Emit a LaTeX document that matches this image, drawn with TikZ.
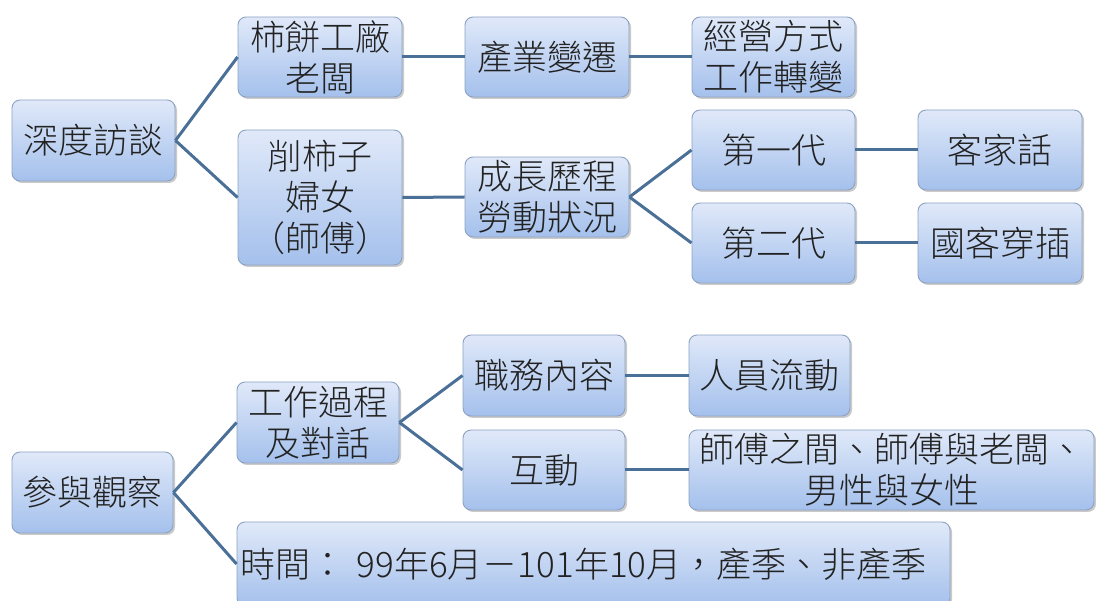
\documentclass[tikz,border=0pt]{standalone}
\usepackage{fontspec}
\setmainfont{Noto Sans CJK TC}[UprightFont={* Light}]
\usetikzlibrary{shadows}
\definecolor{boxtop}{HTML}{E0E9F9}
\definecolor{boxbot}{HTML}{A4C0EC}
\definecolor{boxline}{HTML}{8CA2C2}
\definecolor{connc}{HTML}{4A7098}
\definecolor{txt}{HTML}{222222}
\tikzset{
  box/.style={rectangle, rounded corners=8pt, draw=boxline, line width=0.9pt,
    top color=boxtop, bottom color=boxbot, text=txt, align=center,
    inner sep=0pt, font=\fontsize{35}{41}\selectfont,
    drop shadow={shadow xshift=2pt, shadow yshift=-2pt, opacity=0.35, fill=black!60}},
  conn/.style={draw=connc, line width=3pt},
}
\begin{document}
\begin{tikzpicture}[x=1pt,y=-1pt]
\useasboundingbox (0,0) rectangle (1096,601);
% top tree
\node[box, minimum width=163pt, minimum height=81pt] (ia) at (93.5,140.5) {深度訪談};
\node[box, minimum width=164pt, minimum height=80pt] (boss) at (320,57) {柿餅工廠\\老闆};
\node[box, minimum width=164pt, minimum height=135pt] (women) at (320,197.5) {削柿子\\婦女\\（師傅）};
\node[box, minimum width=164pt, minimum height=80pt] (ind) at (547,57) {產業變遷};
\node[box, minimum width=163pt, minimum height=80pt] (biz) at (773.5,57) {經營方式\\工作轉變};
\node[box, minimum width=164pt, minimum height=80pt] (grow) at (547,197) {成長歷程\\勞動狀況};
\node[box, minimum width=163pt, minimum height=80pt] (g1) at (773.5,150) {第一代};
\node[box, minimum width=163pt, minimum height=80pt] (g2) at (773.5,243) {第二代};
\node[box, minimum width=164pt, minimum height=80pt] (hakka) at (1000,150) {客家話};
\node[box, minimum width=164pt, minimum height=80pt] (mix) at (1000,243) {國客穿插};
% bottom tree
\node[box, minimum width=161pt, minimum height=81pt] (po) at (92.5,492.5) {參與觀察};
\node[box, minimum width=162pt, minimum height=81pt] (wp) at (318,422.5) {工作過程\\及對話};
\node[box, minimum width=162pt, minimum height=81pt] (duty) at (544,375.5) {職務內容};
\node[box, minimum width=162pt, minimum height=80pt] (inter) at (544,470) {互動};
\node[box, minimum width=161pt, minimum height=81pt] (flow) at (769.5,375.5) {人員流動};
\node[box, minimum width=405pt, minimum height=80pt] (rel) at (891.5,470) {師傅之間、師傅與老闆、\\男性與女性};
\node[box, minimum width=713pt, minimum height=84pt, text width=707pt, align=left, inner xsep=3pt] (time) at (593.5,564) {時間： 99年6月－101年10月，產季、非產季};
% connectors
\draw[conn] (ia.east) -- (boss.west);
\draw[conn] (ia.east) -- (women.west);
\draw[conn] (boss.east) -- (ind.west);
\draw[conn] (ind.east) -- (biz.west);
\draw[conn] (women.east) -- (grow.west);
\draw[conn] (grow.east) -- (g1.west);
\draw[conn] (grow.east) -- (g2.west);
\draw[conn] (g1.east) -- (hakka.west);
\draw[conn] (g2.east) -- (mix.west);
\draw[conn] (po.east) -- (wp.west);
\draw[conn] (po.east) -- (time.west);
\draw[conn] (wp.east) -- (duty.west);
\draw[conn] (wp.east) -- (inter.west);
\draw[conn] (duty.east) -- (flow.west);
\draw[conn] (inter.east) -- (rel.west);
\end{tikzpicture}
\end{document}
